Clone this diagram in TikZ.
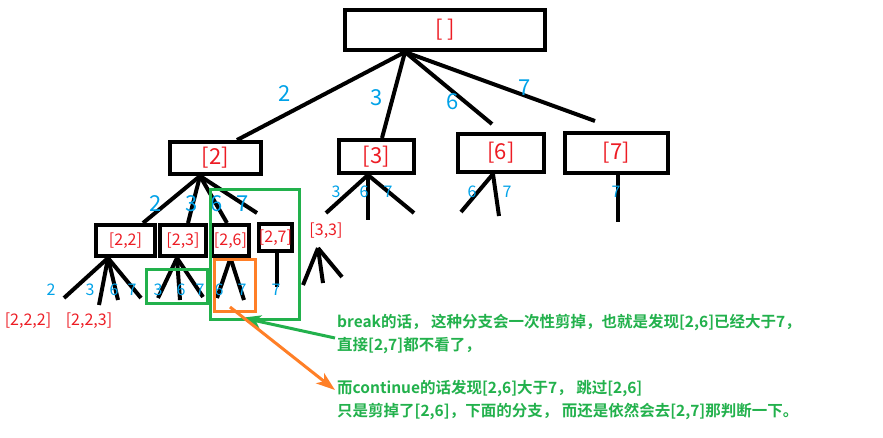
\documentclass[tikz,border=0pt]{standalone}
\usepackage{fontspec}
\setmainfont{Noto Sans CJK SC}[BoldFont={Noto Sans CJK SC Bold}]
\usetikzlibrary{positioning, arrows.meta}

\definecolor{pred}{HTML}{ED1C24}
\definecolor{pblue}{HTML}{00A2E8}
\definecolor{pgreen}{HTML}{22B14C}
\definecolor{porange}{HTML}{FF7F27}

\begin{document}
\begin{tikzpicture}[x=1pt, y=-1pt, >={Stealth[length=19pt, width=13pt, inset=5pt]},
    box/.style={draw, line width=4pt, inner sep=0pt, text=pred},
    big/.style={font=\fontsize{22}{22}\selectfont},
    small/.style={font=\fontsize{16}{16}\selectfont},
    num/.style={text=pblue, inner sep=0pt},
    branch/.style={line width=4pt},
    frame/.style={draw, line width=2.5pt},
    note/.style={text=pgreen, inner sep=0pt, align=left, anchor=west,
                 font=\fontsize{15.5}{23}\selectfont\bfseries}]
    \fill[white] (0,0) rectangle (883,437);
    \useasboundingbox (0,0) rectangle (883,437);

    % boxes
    \node[box, big, minimum width=200, minimum height=40] (root) at (445,30) {[ ]};
    \node[box, big, minimum width=91, minimum height=32] (b2) at (215.5,158) {[2]};
    \node[box, big, minimum width=75, minimum height=33] (b3) at (376.5,156.5) {[3]};
    \node[box, big, minimum width=86, minimum height=38] (b6) at (501,153) {[6]};
    \node[box, big, minimum width=103, minimum height=40] (b7) at (616.5,153) {[7]};
    \node[box, small, minimum width=59, minimum height=31] (b22) at (125.5,240.5) {[2,2]};
    \node[box, small, minimum width=46, minimum height=31] (b23) at (183,240.5) {[2,3]};
    \node[box, small, minimum width=37, minimum height=31] (b26) at (230.5,240.5) {[2,6]};
    \node[box, small, minimum width=33, minimum height=27] (b27) at (275.5,237.5) {[2,7]};
    \node[small, text=pred, inner sep=0pt] (n33) at (326,231) {[3,3]};
    \node[small, text=pred, inner sep=0pt] (n222) at (28,321) {[2,2,2]};
    \node[small, text=pred, inner sep=0pt] (n223) at (89,321) {[2,2,3]};

    % loose ends
    \foreach \n/\x/\y in {l31/326/213, l32/368/220, l33/414/213, l61/461/212,
        l62/499/216, l71/618/222, l221/64/298, l222/99/305, l223/118/300,
        l224/141/298, l231/158/298, l232/180/300, l233/203/297, l261/217/298,
        l262/244/300, l271/277/287, l331/303/285, l332/323/283, l333/342/277}
        \coordinate (\n) at (\x,\y);

    \path[branch]
    ([xshift=-40]root.south) edge ([xshift=21.5]b2.north)
    ([xshift=-40]root.south) edge ([xshift=5.5]b3.north)
    ([xshift=-40]root.south) edge ([xshift=-9,yshift=8]b6.north)
    ([xshift=-40]root.south) edge ([xshift=-21.5,yshift=10]b7.north)
    ([xshift=-15.5]b2.south) edge ([xshift=17.5]b22.north)
    ([xshift=-15.5]b2.south) edge ([xshift=5]b23.north)
    ([xshift=-15.5]b2.south) edge ([xshift=-3.5]b26.north)
    ([xshift=-15.5]b2.south) edge ([xshift=-18.5,yshift=9]b27.north)
    ([xshift=-8.5]b3.south) edge (l31) edge (l32) edge (l33)
    ([xshift=-8]b6.south) edge (l61) edge (l62)
    ([xshift=1.5]b7.south) edge (l71)
    ([xshift=-17.5]b22.south) edge (l221) edge (l222) edge (l223) edge (l224)
    ([xshift=-6]b23.south) edge (l231) edge (l232) edge (l233)
    (b26.south) edge (l261) edge (l262)
    ([xshift=1.5]b27.south) edge (l271)
    ([xshift=-8,yshift=-9]n33.south) edge (l331) edge (l332) edge (l333);

    % edge labels
    \node[num, big] (t2) at (285,94) {2};
    \node[num, big] (t3) at (377,98) {3};
    \node[num, big] (t6) at (453,102) {6};
    \node[num, big] (t7) at (525,88) {7};
    \node[num, big] (t22) at (156,204) {2};
    \node[num, big] (t23) at (192,204) {3};
    \node[num, big] (t26) at (217,204) {6};
    \node[num, big] (t27) at (243,204) {7};
    \node[num, small] (t33) at (336,192) {3};
    \node[num, small] (t36) at (364,192) {6};
    \node[num, small] (t37) at (388,192) {7};
    \node[num, small] (t66) at (472,192) {6};
    \node[num, small] (t67) at (507,192) {7};
    \node[num, small] (t77) at (616,192) {7};
    \node[num, small] (t222) at (51,290) {2};
    \node[num, small] (t223) at (90,290) {3};
    \node[num, small] (t226) at (114,290) {6};
    \node[num, small] (t227) at (132,290) {7};
    \node[num, small] (t233) at (158,290) {3};
    \node[num, small] (t236) at (181,290) {6};
    \node[num, small] (t237) at (200,290) {7};
    \node[num, small] (t266) at (219,290) {6};
    \node[num, small] (t267) at (242,290) {7};
    \node[num, small] (t277) at (276,290) {7};

    % pruned parts
    \node[frame, pgreen, minimum width=61, minimum height=34] (g1) at (177,286.5) {};
    \node[frame, pgreen, minimum width=89, minimum height=130] (g2) at (255,254.5) {};
    \node[frame, porange, line width=3pt, minimum width=41, minimum height=52] (o1) at (235,285.5) {};

    % notes
    \node[note] (brk) at (337,334) {break的话， 这种分支会一次性剪掉，也就是发现[2,6]已经大于7，\\直接[2,7]都不看了，};
    \node[note] (cnt) at (337,400) {而continue的话发现[2,6]大于7， 跳过[2,6]\\只是剪掉了[2,6]，下面的分支， 而还是依然会去[2,7]那判断一下。};

    \draw[->, pgreen, line width=3pt] ([xshift=-2,yshift=-4]brk.west) -- ([xshift=-13,yshift=3]g2.south);
    \draw[->, porange, line width=3pt] ([xshift=-5,yshift=6]o1.south) -- ([xshift=-2,yshift=10]cnt.west);
\end{tikzpicture}
\end{document}
